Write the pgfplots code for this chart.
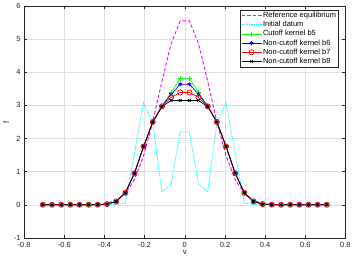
\documentclass[border=0pt]{standalone}
\usepackage{pgfplots}
\pgfplotsset{compat=1.18}
\usepackage{pgfplotstable}
\usepackage{fontspec}
\setmainfont{Liberation Sans}
\pgfplotstableread{
x ref init b5 b6 b7 b8
-0.7071 0 0 0 0 0 0
-0.6615 0 0 0 0 0 0
-0.6158 0 0 0 0 0 0
-0.5702 0 0 0 0 0 0
-0.5246 0 0 0 0 0 0
-0.4790 0 0 0 0 0 0
-0.4334 0.014 0 0.004 0.004 0.004 0.004
-0.3877 0.046 0 0.02 0.02 0.02 0.02
-0.3421 0.13 0.01 0.10 0.10 0.10 0.10
-0.2965 0.34 0.05 0.36 0.36 0.36 0.36
-0.2509 0.76 1.55 0.95 0.95 0.95 0.95
-0.2053 1.48 3.08 1.76 1.76 1.76 1.76
-0.1597 2.50 2.45 2.50 2.50 2.50 2.49
-0.1140 3.73 0.40 2.98 2.98 2.97 2.96
-0.0684 4.86 0.62 3.38 3.33 3.24 3.15
-0.0228 5.55 2.20 3.82 3.64 3.39 3.15
0.0228 5.55 2.20 3.82 3.64 3.39 3.15
0.0684 4.86 0.62 3.38 3.33 3.24 3.15
0.1140 3.73 0.40 2.98 2.98 2.97 2.96
0.1597 2.50 2.45 2.50 2.50 2.50 2.49
0.2053 1.48 3.08 1.76 1.76 1.76 1.76
0.2509 0.76 1.55 0.95 0.95 0.95 0.95
0.2965 0.34 0.05 0.36 0.36 0.36 0.36
0.3421 0.13 0.01 0.10 0.10 0.10 0.10
0.3877 0.046 0 0.02 0.02 0.02 0.02
0.4334 0.014 0 0.004 0.004 0.004 0.004
0.4790 0 0 0 0 0 0
0.5246 0 0 0 0 0 0
0.5702 0 0 0 0 0 0
0.6158 0 0 0 0 0 0
0.6615 0 0 0 0 0 0
0.7071 0 0 0 0 0 0
}\datatable
\definecolor{axgray}{rgb}{0.15,0.15,0.15}
\definecolor{gridgray}{rgb}{0.88,0.88,0.88}
\definecolor{mag}{rgb}{1,0,1}
\definecolor{cya}{rgb}{0,1,1}
\definecolor{grn}{rgb}{0,1,0}
\begin{document}
\begin{tikzpicture}
\begin{axis}[
  scale only axis,
  width=320bp, height=231bp,
  xmin=-0.8, xmax=0.8, ymin=-1, ymax=6,
  xtick={-0.8,-0.6,-0.4,-0.2,0,0.2,0.4,0.6,0.8},
  xticklabels={-0.8,-0.6,-0.4,-0.2,0,0.2,0.4,0.6,0.8},
  ytick={-1,0,1,2,3,4,5,6},
  yticklabels={-1,0,1,2,3,4,5,6},
  xmajorgrids, ymajorgrids,
  grid style={gridgray, line width=0.5pt},
  axis line style={axgray, line width=0.5pt},
  tick style={axgray, line width=0.5pt},
  major tick length=3bp,
  tick align=inside,
  xtick pos=both, ytick pos=both,
  ticklabel style={font=\fontsize{7.5}{8}\selectfont, text=axgray},
  xticklabel style={yshift=-0.5bp},
  xlabel={v}, ylabel={f},
  label style={font=\fontsize{8}{9}\selectfont, text=axgray},
  xlabel style={yshift=4bp},
  ylabel style={yshift=-2bp},
  legend style={at={(rel axis cs:0.978,0.983)}, anchor=north east,
    font=\fontsize{7.5}{8.5}\selectfont, draw=axgray, line width=0.5pt,
    inner sep=1pt, row sep=0pt,
    nodes={inner sep=1.1pt}},
  legend cell align=left,
  legend image code/.code={
    \draw[mark repeat=2,mark phase=2,#1]
      plot coordinates {(0cm,0cm) (0.35cm,0cm) (0.7cm,0cm)};},
]
\addplot[mag, dash pattern=on 3.5pt off 2pt, line width=0.9pt] table[x=x,y=ref] {\datatable};
\addlegendentry{Reference equilibrium}
\addplot[cya, dash pattern=on 1pt off 0.8pt, line width=0.8pt] table[x=x,y=init] {\datatable};
\addlegendentry{Initial datum}
\addplot[grn, line width=0.7pt, mark=+, mark size=2.5pt, mark options={solid}] table[x=x,y=b5] {\datatable};
\addlegendentry{Cutoff kernel b5}
\addplot[blue, line width=0.7pt, mark=asterisk, mark size=2.2pt, mark options={solid}] table[x=x,y=b6] {\datatable};
\addlegendentry{Non-cutoff kernel b6}
\addplot[red, line width=0.7pt, mark=o, mark size=2.6pt, mark options={solid}] table[x=x,y=b7] {\datatable};
\addlegendentry{Non-cutoff kernel b7}
\addplot[black, line width=0.7pt, mark=x, mark size=2pt, mark options={solid}] table[x=x,y=b8] {\datatable};
\addlegendentry{Non-cutoff kernel b8}
\end{axis}
\end{tikzpicture}
\end{document}
